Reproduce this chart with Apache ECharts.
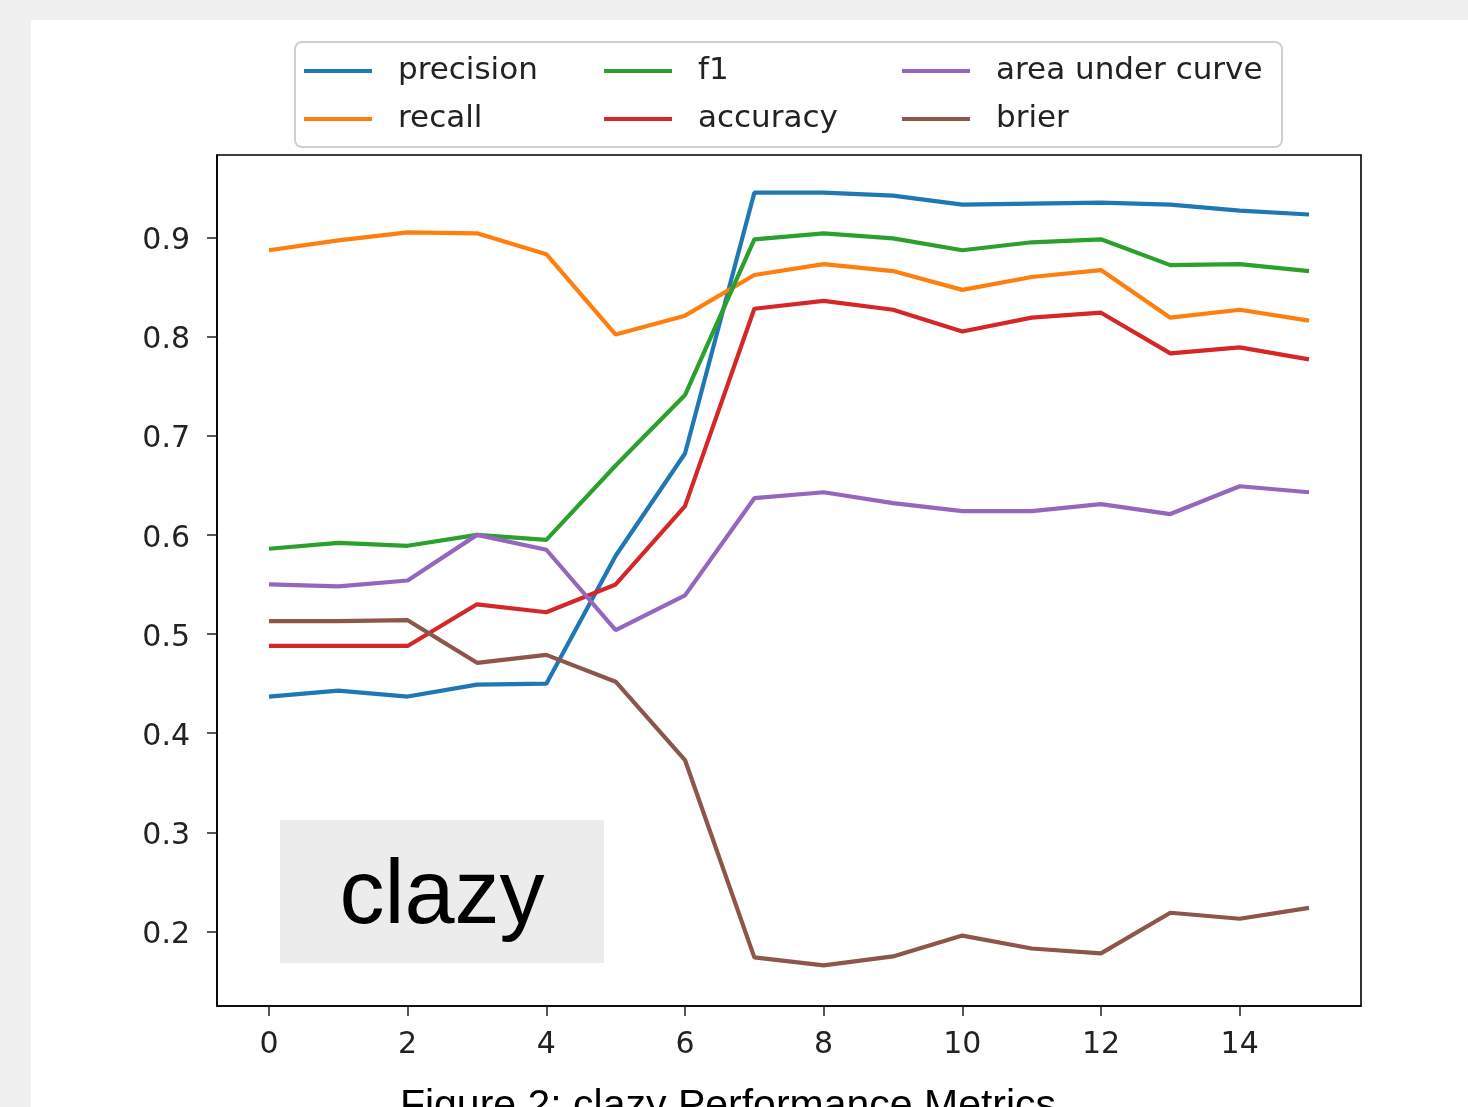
<!DOCTYPE html>
<html>
<head>
<meta charset="utf-8">
<script src="https://cdn.jsdelivr.net/npm/echarts@6/dist/echarts.min.js"></script>
<style>
html,body{margin:0;padding:0;background:#f0f0f0;}
#chart{width:1468px;height:1107px;}
</style>
</head>
<body>
<div id="chart"></div>
<script>
const steps = [0,1,2,3,4,5,6,7,8,9,10,11,12,13,14,15];
const precision = [0.437,0.443,0.437,0.449,0.450,0.579,0.682,0.945,0.945,0.942,0.933,0.934,0.935,0.933,0.927,0.923];
const recall    = [0.887,0.897,0.905,0.904,0.883,0.802,0.821,0.862,0.873,0.866,0.847,0.860,0.867,0.819,0.827,0.816];
const f1        = [0.586,0.592,0.589,0.600,0.595,0.670,0.741,0.898,0.904,0.899,0.887,0.895,0.898,0.872,0.873,0.866];
const accuracy  = [0.488,0.488,0.488,0.530,0.522,0.550,0.629,0.828,0.836,0.827,0.805,0.819,0.824,0.783,0.789,0.777];
const auc       = [0.550,0.548,0.554,0.600,0.585,0.504,0.539,0.637,0.643,0.632,0.624,0.624,0.631,0.621,0.649,0.643];
const brier     = [0.513,0.513,0.514,0.471,0.479,0.452,0.373,0.174,0.166,0.175,0.196,0.183,0.178,0.219,0.213,0.224];
const xTicks = [0,2,4,6,8,10,12,14];
const yTicks = [0.2,0.3,0.4,0.5,0.6,0.7,0.8,0.9];
const seriesNames = ['precision','recall','f1','accuracy','area under curve','brier'];
const seriesValues = [precision, recall, f1, accuracy, auc, brier];
const colors = ['#1f77b4','#ff7f0e','#2ca02c','#d62728','#9467bd','#8c564b'];

const chart = echarts.init(document.getElementById('chart'));
const plotFont = 'DejaVu Sans';
function legendCol(left, names) {
  return {
    orient: 'vertical', left: left, top: 54, padding: 0,
    itemWidth: 68, itemHeight: 4, itemGap: 14, icon: 'rect',
    data: names,
    textStyle: {fontFamily: plotFont, fontSize: 31, color: '#222', lineHeight: 34, padding: [0,0,0,21]}
  };
}
chart.setOption({
  backgroundColor: '#f0f0f0',
  animation: false,
  color: colors,
  graphic: [
    {type:'rect', z:-10, shape:{x:31,y:20,width:1437,height:1087}, style:{fill:'#ffffff'}},
    {type:'rect', z:0, shape:{x:295,y:42,width:987,height:105,r:7}, style:{fill:'rgba(255,255,255,0.8)', stroke:'#d0d0d0', lineWidth:2}},
    {type:'rect', z:50, shape:{x:280,y:820,width:324,height:143}, style:{fill:'#ececec'}},
    {type:'text', z:51, x:442, y:898, style:{text:'clazy', fontFamily:'Liberation Sans', fontSize:90, fill:'#000', align:'center', verticalAlign:'middle'}},
    {type:'text', z:51, x:728, y:1107, style:{text:'Figure 2: clazy Performance Metrics', fontFamily:'Liberation Sans', fontSize:41, fill:'#000', align:'center', verticalAlign:'middle'}}
  ],
  legend: [
    legendCol(304, ['precision','recall']),
    legendCol(604, ['f1','accuracy']),
    legendCol(902, ['area under curve','brier'])
  ],
  grid: {left: 217, top: 155, right: 107, bottom: 101, show: true, borderColor: '#000', borderWidth: 1.6, backgroundColor: '#fff'},
  xAxis: {
    type: 'value', min: -0.75, max: 15.75,
    splitLine: {show:false},
    axisLine: {show:true, onZero:false, lineStyle:{color:'#000', width:1.6}},
    axisTick: {show:true, length:10, customValues: xTicks, lineStyle:{color:'#222', width:1.5}},
    axisLabel: {customValues: xTicks, fontFamily: plotFont, fontSize: 30, color:'#222', margin: 24}
  },
  yAxis: {
    type: 'value', min: 0.125, max: 0.983,
    splitLine: {show:false},
    axisLine: {show:true, onZero:false, lineStyle:{color:'#000', width:1.6}},
    axisTick: {show:true, length:10, customValues: yTicks, lineStyle:{color:'#222', width:1.5}},
    axisLabel: {customValues: yTicks, color:'#222', margin: 27,
      formatter: v => '{t|' + v.toFixed(1) + '}',
      rich: {t: {fontFamily: plotFont, fontSize: 30, color: '#222', padding: [8,0,0,0]}}}
  },
  series: seriesNames.map((name, i) => ({
    name: name, type: 'line', showSymbol: false, symbol: 'none',
    lineStyle: {width: 4.2, color: colors[i]},
    itemStyle: {color: colors[i]},
    data: steps.map((s, j) => [s, seriesValues[i][j]])
  }))
});
</script>
</body>
</html>
